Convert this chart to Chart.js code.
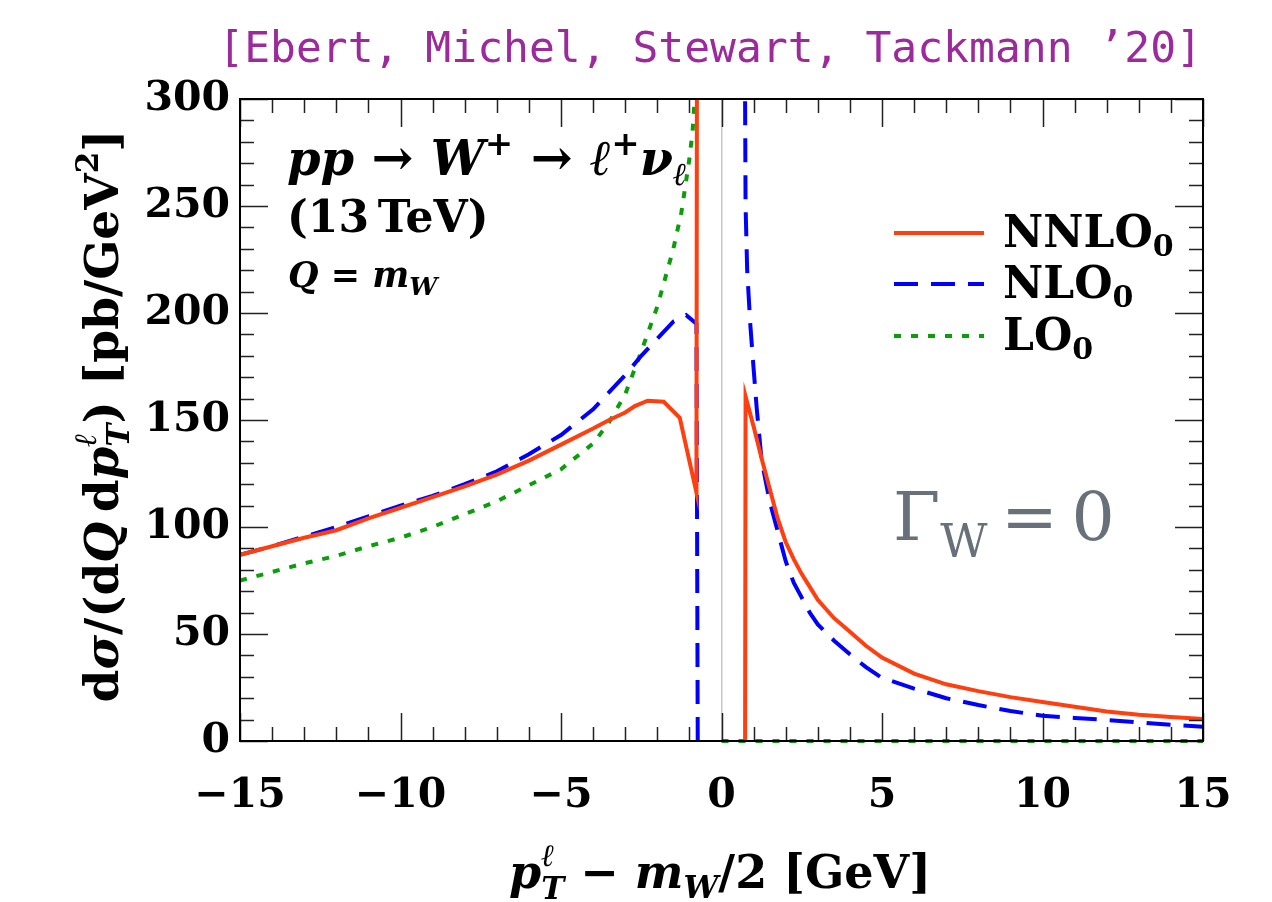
<!DOCTYPE html>
<html>
<head>
<meta charset="utf-8">
<script src="https://cdn.jsdelivr.net/npm/chart.js@4.4.1/dist/chart.umd.min.js"></script>
<style>
  html, body { margin: 0; padding: 0; background: #fff; }
  #wrap { position: relative; width: 1272px; height: 902px; }
</style>
</head>
<body>
<div id="wrap"><canvas id="chart"></canvas></div>
<script>
// values (null = break in the curve)
var nnloX = [-15, -14, -13, -12, -11, -10, -9, -8, -7, -6, -5, -4, -3.5, -3, -2.7, -2.3, -1.8, -1.3, -0.78, -0.76, null,
             0.73, 0.75, 1, 1.25, 1.5, 1.75, 2, 2.25, 2.5, 2.75, 3, 3.5, 4, 4.5, 5, 6, 7, 8, 9, 10, 11, 12, 13, 14, 15];
var nnloY = [87, 91, 95, 98.5, 104, 109, 114, 119, 124.5, 131, 138.5, 146, 150, 153.5, 156.5, 159, 158.5, 151, 116, 400, null,
             -60, 161, 147, 132, 118, 104, 93, 85, 78, 72, 66, 57.5, 51, 44.5, 39, 31.5, 26.5, 23.3, 20.5, 18.2, 16, 13.8, 12.3, 11.2, 10.3];

var nloX = [-15, -14, -13, -12, -11, -10, -9, -8, -7, -6, -5, -4, -3.5, -3, -2.5, -2, -1.5, -1.1, -0.78, -0.74, null,
            0.7, 0.75, 0.8, 0.9, 1, 1.1, 1.25, 1.5, 1.75, 2, 2.25, 2.5, 2.75, 3, 3.5, 4, 4.5, 5, 6, 7, 8, 9, 10, 11, 12, 13, 14, 15];
var nloY = [87, 91, 95.5, 100, 105, 110, 114.5, 120, 126, 134, 143, 155, 163, 171, 180, 188, 196, 199, 195, 0, null,
            420, 250, 220, 194, 174, 155, 131, 112, 98, 84, 74, 67, 60, 54.5, 47, 40.5, 34.5, 29.5, 24.5, 20, 16.8, 14, 11.8, 10.8, 9.8, 8.7, 7.6, 6.7];

var loX = [-15, -14, -13, -12, -11, -10, -9, -8, -7, -6, -5, -4, -3.5, -3, -2.5, -2, -1.5, -1.25, -1, -0.9, -0.75, null, 0, 15];
var loY = [75, 79, 83, 86.5, 91, 95, 100, 106, 112, 119.5, 127, 139, 149, 162, 182, 203, 230, 247, 272, 285, 320, null, 0, 0];

var seriesNames = ['NNLO', 'NLO', 'LO'];
var seriesColors = ['#ff3f0f', '#0000ff', '#0a9f0a'];
var xTickLabelStep = 5, yTickLabelStep = 50;
var citation = '[Ebert, Michel, Stewart, Tackmann \u201920]';

var SERIF = '"DejaVu Serif"';
function f(size, style) { return (style || 'bold') + ' ' + size + 'px ' + SERIF; }

function toPoints(xs, ys) {
  var pts = [];
  for (var i = 0; i < xs.length; i++) {
    if (ys[i] === null) pts.push({x: xs[i - 1], y: null});
    else pts.push({x: xs[i], y: ys[i]});
  }
  return pts;
}

function richWidth(ctx, parts) {
  var w = 0;
  parts.forEach(function(p) {
    var items = p.stack || [p];
    var m = 0;
    items.forEach(function(s) { ctx.font = s.f; m = Math.max(m, ctx.measureText(s.t).width); });
    w += m;
  });
  return w;
}

function drawRich(ctx, parts, x, y, align, color) {
  var cx = x;
  if (align === 'center') cx = x - richWidth(ctx, parts) / 2;
  if (align === 'right') cx = x - richWidth(ctx, parts);
  ctx.textAlign = 'left';
  ctx.textBaseline = 'alphabetic';
  parts.forEach(function(p) {
    var items = p.stack || [p];
    var adv = 0;
    items.forEach(function(s) {
      ctx.font = s.f;
      ctx.fillStyle = s.c || color || '#000';
      ctx.fillText(s.t, cx, y + (s.dy || 0));
      adv = Math.max(adv, ctx.measureText(s.t).width);
    });
    cx += adv;
  });
}

var decorations = {
  id: 'decorations',
  afterDatasetsDraw: function(chart) {
    var ctx = chart.ctx, a = chart.chartArea;
    var xs = chart.scales.x, ys = chart.scales.y;
    ctx.save();

    // ticks on all four sides, pointing inward
    ctx.strokeStyle = '#222';
    ctx.lineWidth = 1.5;
    ctx.beginPath();
    xs.ticks.forEach(function(t) {
      var px = Math.round(xs.getPixelForValue(t.value)) + 0.5;
      var len = t.value % xTickLabelStep === 0 ? 28 : 14;
      ctx.moveTo(px, a.bottom); ctx.lineTo(px, a.bottom - len);
      ctx.moveTo(px, a.top); ctx.lineTo(px, a.top + len);
    });
    ys.ticks.forEach(function(t) {
      var py = Math.round(ys.getPixelForValue(t.value)) + 0.5;
      var len = t.value % yTickLabelStep === 0 ? 28 : 14;
      ctx.moveTo(a.left, py); ctx.lineTo(a.left + len, py);
      ctx.moveTo(a.right, py); ctx.lineTo(a.right - len, py);
    });
    ctx.stroke();

    // frame
    ctx.lineWidth = 2;
    ctx.strokeStyle = '#000';
    ctx.strokeRect(a.left, a.top, a.right - a.left, a.bottom - a.top);

    // legend
    var ly = [233, 284, 336];
    chart.data.datasets.forEach(function(ds, i) {
      ctx.beginPath();
      ctx.strokeStyle = ds.borderColor;
      ctx.lineWidth = ds.borderWidth;
      ctx.setLineDash(ds.borderDash || []);
      ctx.moveTo(894, ly[i]); ctx.lineTo(984, ly[i]);
      ctx.stroke();
      ctx.setLineDash([]);
      drawRich(ctx, [{t: seriesNames[i], f: f(44)}, {t: '0', f: f(30), dy: 9}], 1003, ly[i] + 14, 'left');
    });

    // process annotation
    drawRich(ctx, [
      {t: 'pp', f: f(48, 'italic bold')},
      {t: ' \u2192 ', f: f(50)},
      {t: 'W', f: f(48, 'italic bold')},
      {t: '+', f: f(34), dy: -20},
      {t: ' \u2192 ', f: f(50)},
      {t: '\u2113', f: f(50, 'italic bold')},
      {t: '+', f: f(34), dy: -20},
      {t: '\u03bd', f: f(48, 'italic bold')},
      {t: '\u2113', f: f(32, 'italic bold'), dy: 10}
    ], 287, 175, 'left');
    drawRich(ctx, [{t: '(13\u2009TeV)', f: f(44)}], 287, 232, 'left');
    drawRich(ctx, [
      {t: 'Q', f: f(35, 'italic bold')},
      {t: ' = ', f: f(35)},
      {t: 'm', f: f(35, 'italic bold')},
      {t: 'W', f: f(25, 'italic bold'), dy: 8}
    ], 288, 287, 'left');

    // width note
    drawRich(ctx, [
      {t: '\u0393', f: 'normal 68px ' + SERIF},
      {t: 'W', f: 'normal 46px ' + SERIF, dy: 17},
      {t: '\u2009=\u20090', f: 'normal 68px ' + SERIF}
    ], 893, 540, 'left', '#68717a');

    ctx.restore();
  },
  afterDraw: function(chart) {
    var ctx = chart.ctx;
    ctx.save();
    // citation
    ctx.font = '43px "DejaVu Sans Mono"';
    ctx.fillStyle = '#9c2a9c';
    ctx.textAlign = 'right';
    ctx.textBaseline = 'alphabetic';
    ctx.fillText(citation, 1202, 62);

    // x title
    drawRich(ctx, [
      {t: 'p', f: f(46, 'italic bold')},
      {stack: [{t: '\u2113', f: f(31, 'italic bold'), dy: -22}, {t: 'T', f: f(31, 'italic bold'), dy: 11}]},
      {t: ' \u2212 ', f: f(46)},
      {t: 'm', f: f(46, 'italic bold')},
      {t: 'W', f: f(31, 'italic bold'), dy: 10},
      {t: '/2 [GeV]', f: f(46)}
    ], 720, 888, 'center');

    // y title
    ctx.translate(118, 416);
    ctx.rotate(-Math.PI / 2);
    drawRich(ctx, [
      {t: 'd', f: f(47)},
      {t: '\u03c3', f: f(47, 'italic bold')},
      {t: '/(d', f: f(47)},
      {t: 'Q', f: f(47, 'italic bold')},
      {t: '\u2009d', f: f(47)},
      {t: 'p', f: f(47, 'italic bold')},
      {stack: [{t: '\u2113', f: f(31, 'italic bold'), dy: -22}, {t: 'T', f: f(31, 'italic bold'), dy: 11}]},
      {t: ') [pb/GeV', f: f(47)},
      {t: '2', f: f(31), dy: -20},
      {t: ']', f: f(47)}
    ], 0, 0, 'center');
    ctx.restore();
  }
};

var ctx = document.getElementById('chart');
var chart = new Chart(ctx, {
  type: 'line',
  data: {
    datasets: [
      {
        label: seriesNames[0],
        data: toPoints(nnloX, nnloY),
        borderColor: seriesColors[0],
        borderWidth: 4,
        pointRadius: 0,
        tension: 0,
        spanGaps: false
      },
      {
        label: seriesNames[1],
        data: toPoints(nloX, nloY),
        borderColor: seriesColors[1],
        borderWidth: 4,
        borderDash: [24, 13],
        pointRadius: 0,
        tension: 0,
        spanGaps: false
      },
      {
        label: seriesNames[2],
        data: toPoints(loX, loY),
        borderColor: seriesColors[2],
        borderWidth: 4,
        borderDash: [7, 10],
        pointRadius: 0,
        tension: 0,
        spanGaps: false,
        clip: {left: 0, top: 0, right: 0, bottom: 4}
      }
    ]
  },
  options: {
    responsive: true,
    maintainAspectRatio: false,
    animation: false,
    layout: { padding: { top: 99, right: 69, bottom: 0, left: 0 } },
    plugins: {
      legend: { display: false },
      tooltip: { enabled: false }
    },
    scales: {
      x: {
        type: 'linear',
        min: -15,
        max: 15,
        afterFit: function(s) { s.height = 161; },
        border: { display: false },
        grid: {
          drawTicks: false,
          lineWidth: 1.5,
          color: function(c) { return c.tick && c.tick.value === 0 ? '#c8c8c8' : 'rgba(0,0,0,0)'; }
        },
        ticks: {
          stepSize: 1,
          autoSkip: false,
          maxRotation: 0,
          padding: 31,
          color: '#000',
          font: { family: 'DejaVu Serif', size: 41, weight: 'bold' },
          callback: function(v) {
            if (v % xTickLabelStep !== 0) return '';
            return v < 0 ? '\u2212' + Math.abs(v) : '' + v;
          }
        }
      },
      y: {
        min: 0,
        max: 300,
        afterFit: function(s) { s.width = 240; },
        border: { display: false },
        grid: { display: false, drawTicks: false },
        ticks: {
          stepSize: 10,
          autoSkip: false,
          padding: 10,
          color: '#000',
          font: { family: 'DejaVu Serif', size: 41, weight: 'bold' },
          callback: function(v) { return v % yTickLabelStep === 0 ? '' + v : ''; }
        }
      }
    }
  },
  plugins: [decorations]
});
</script>
</body>
</html>
